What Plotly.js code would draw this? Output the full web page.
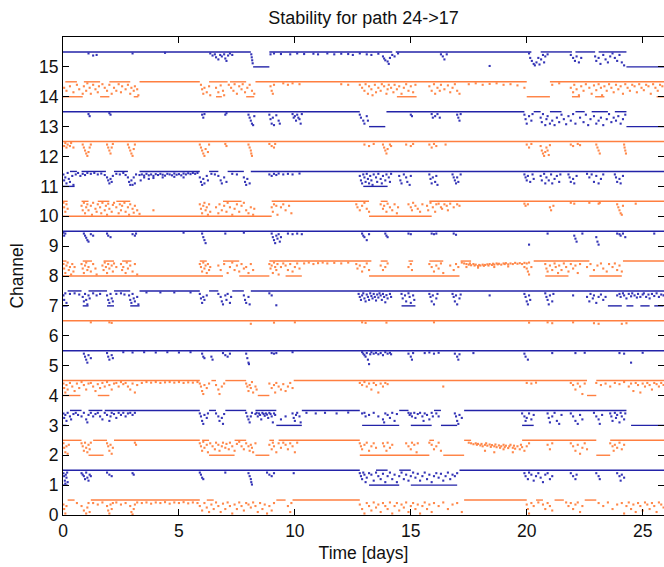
<!DOCTYPE html>
<html>
<head>
<meta charset="utf-8">
<script src="https://cdn.plot.ly/plotly-3.0.1.min.js"></script>
<style>html,body{margin:0;padding:0;background:#fff;}#chart{width:664px;height:567px;}</style>
</head>
<body>
<div id="chart"></div>
<script>
// Channel line segments: [tStart, tEnd, level] (level 1 = channel+0.5, level 0 = channel)
const ch15Segs = [[0,8.1,1],[8.2,8.9,0],[8.9,14.2,1],[14.35,20.2,1],[20.6,21.95,1],[22.1,22.95,1],[23.1,24.3,1],[24.3,25.95,0]];
const ch14Segs = [[0,0.85,0],[0.1,0.6,1],[0.9,1.6,1],[1.6,2.0,0],[2.0,2.9,1],[3.05,3.25,0],[3.3,5.9,1],[6.3,7.1,1],[6.6,6.85,0],[7.2,7.9,1],[7.9,8.25,0],[8.3,20.0,1],[14.4,15.25,0],[20.0,21.0,0],[21.0,25.95,1],[21.95,22.3,0],[22.95,23.35,0],[25.6,25.95,0]];
const ch13Segs = [[0,12.8,1],[13.2,13.9,0],[13.95,19.9,1],[20.3,20.6,1],[21.0,21.5,1],[22.1,22.5,1],[22.8,23.5,1],[23.8,24.3,1],[24.3,25.95,0]];
const ch12Segs = [[0,25.95,1]];
const ch11Segs = [[0,0.5,0],[0.3,0.6,1],[0.8,1.85,1],[2.2,2.8,1],[3.3,5.9,1],[6.3,6.7,1],[7.1,7.8,1],[8.1,25.95,1],[12.95,14.0,0]];
const ch10Segs = [[0,9.0,0],[0,0.2,1],[0.8,1.1,1],[1.5,2.0,1],[2.3,2.9,1],[6.9,7.7,1],[9.0,13.2,1],[13.2,15.9,0],[13.7,14.0,1],[15.8,25.95,1]];
const ch9Segs = [[0,25.95,1]];
const ch8Segs = [[0,6.9,0],[7.6,8.9,0],[9.6,10.3,0],[0,0.15,1],[0.85,1.25,1],[1.75,2.2,1],[2.55,2.95,1],[5.9,6.2,1],[6.9,7.6,1],[8.9,13.3,1],[13.2,17.1,0],[13.7,14.0,1],[14.9,15.1,1],[15.8,16.4,1],[17.15,17.6,1],[20.3,22.7,1],[20.8,21.8,0],[22.7,24.1,0],[24.15,25.95,1]];
const ch7Segs = [[0,0.2,0],[0.85,1.1,0],[1.9,2.2,0],[2.9,3.3,0],[0.2,0.8,1],[1.1,1.9,1],[2.2,2.9,1],[3.3,5.9,1],[6.3,6.7,1],[7.3,7.8,1],[8.1,25.95,1],[14.6,15.2,0],[23.5,24.1,0],[24.3,24.6,0],[24.9,25.3,0],[25.5,25.9,0]];
const ch6Segs = [[0,25.95,1]];
const ch5Segs = [[0,25.95,1]];
const ch4Segs = [[0,0.75,0],[1.5,2.0,0],[8.4,8.9,0],[22.6,23.0,0],[0,5.9,1],[6.4,6.6,1],[7.0,7.9,1],[9.95,22.6,1],[23.0,25.95,1]];
const ch3Segs = [[0,0.15,0],[9.2,10.3,0],[12.9,14.5,0],[15.0,15.9,0],[16.3,17.0,0],[19.8,20.3,0],[24.5,25.95,0],[0.3,0.8,1],[1.1,1.7,1],[1.8,5.9,1],[6.3,6.6,1],[7.0,7.9,1],[8.3,9.2,1],[10.3,12.8,1],[14.5,14.9,1],[16.0,16.3,1],[17.3,24.3,1]];
const ch2Segs = [[1.1,1.75,0],[6.3,7.4,0],[8.3,8.9,0],[12.8,15.8,0],[16.4,17.3,0],[23.0,23.6,0],[0,0.8,1],[1.3,1.9,1],[2.2,5.9,1],[6.0,6.3,1],[7.4,7.9,1],[8.9,9.1,1],[9.3,12.8,1],[15.8,16.0,1],[17.3,17.6,1],[19.8,23.0,1],[23.6,25.95,1]];
const ch1Segs = [[0,0.2,0],[13.2,14.5,0],[15.0,17.0,0],[0,12.8,1],[13.5,14.0,1],[14.5,15.0,1],[17.1,25.95,1]];
const ch0Segs = [[0.2,0.5,1],[1.2,5.9,1],[6.2,6.5,1],[9.2,9.6,1],[9.9,12.8,1],[17.3,20.0,1],[20.4,20.7,1],[21.2,21.6,1],[22.5,23.0,1]];

// Scattered samples: [t, offset above channel]
const ch15Dots = [[1.1,.45],[1.3,.38],[1.45,.4],[3.0,.45],[4.4,.47],[6.35,.45],[6.45,.38],[6.55,.42],[6.6,.32],[6.7,.25],[6.78,.4],[6.85,.35],[6.95,.42],[7.0,.28],[7.05,.2],[7.12,.38],[7.2,.45],[7.3,.4],[8.12,.42],[8.14,.32],[8.16,.22],[8.18,.12],[8.95,.42],[9.1,.45],[9.4,.43],[9.8,.42],[10.1,.45],[10.4,.43],[10.8,.44],[11.0,.42],[11.4,.45],[11.7,.42],[12.0,.44],[12.3,.43],[12.5,.4],[12.8,.45],[13.1,.42],[13.3,.4],[13.6,.44],[13.8,.35],[13.85,.28],[13.9,.22],[14.0,.18],[14.05,.1],[14.1,.3],[14.2,.4],[14.3,.35],[14.45,.45],[16.3,.42],[16.38,.35],[16.45,.25],[16.55,.42],[18.4,.03],[20.1,.45],[20.15,.3],[20.22,.2],[20.3,.1],[20.35,.05],[20.42,.15],[20.5,.3],[20.55,.08],[20.62,.25],[20.7,.4],[20.8,.35],[20.9,.42],[20.75,.15],[21.9,.4],[22.0,.3],[22.08,.2],[22.15,.35],[22.25,.15],[22.35,.3],[22.95,.35],[23.0,.2],[23.1,.3],[23.18,.1],[23.3,.4],[23.4,.25],[23.5,.15],[23.6,.35],[23.7,.45],[23.8,.3],[23.9,.2],[24.0,.4],[24.1,.15],[24.2,.05]];
const ch14Dots = [[0.05,.3],[0.15,.2],[0.3,.35],[0.45,.15],[0.6,.4],[0.7,.25],[0.85,.1],[0.9,.35],[1.0,.2],[1.05,.45],[1.15,.3],[1.2,.1],[1.3,.4],[1.4,.25],[1.5,.15],[1.55,.35],[1.7,.42],[1.8,.3],[1.9,.2],[2.0,.4],[2.1,.1],[2.2,.3],[2.3,.2],[2.4,.42],[2.5,.15],[2.55,.35],[2.7,.25],[2.8,.4],[2.9,.1],[2.95,.3],[3.05,.2],[3.1,.35],[3.2,.25],[3.25,.05],[5.95,.4],[6.0,.25],[6.05,.1],[6.1,.3],[6.2,.15],[6.3,.35],[6.35,.05],[6.6,.3],[6.7,.15],[6.8,.38],[6.9,.2],[6.95,.05],[7.15,.4],[7.25,.3],[7.35,.2],[7.4,.42],[7.5,.1],[7.6,.35],[7.7,.25],[7.75,.42],[7.85,.15],[7.95,.3],[8.05,.4],[8.15,.2],[8.25,.1],[8.95,.35],[9.0,.2],[9.05,.1],[9.1,.4],[9.5,.45],[9.7,.4],[9.9,.45],[10.2,.42],[12.0,.42],[12.3,.4],[12.8,.4],[12.9,.3],[13.0,.2],[13.05,.42],[13.15,.1],[13.2,.35],[13.3,.25],[13.35,.05],[13.45,.4],[13.5,.15],[13.6,.3],[13.7,.2],[13.75,.42],[13.85,.35],[13.95,.1],[14.0,.25],[14.05,.4],[14.15,.3],[14.25,.15],[14.3,.4],[14.4,.25],[14.5,.35],[14.6,.1],[14.7,.3],[14.8,.42],[14.9,.2],[15.0,.35],[15.1,.15],[15.2,.4],[15.8,.35],[15.9,.2],[16.0,.42],[16.05,.1],[16.15,.3],[16.25,.2],[16.3,.4],[16.45,.25],[16.6,.38],[16.7,.15],[16.8,.3],[16.9,.42],[17.0,.2],[17.1,.1],[17.5,.42],[17.8,.45],[18.1,.4],[18.4,.43],[18.7,.45],[19.0,.4],[19.3,.42],[19.6,.38],[19.9,.3],[21.1,.4],[21.4,.45],[21.9,.3],[22.0,.15],[22.05,.4],[22.15,.25],[22.25,.05],[22.35,.35],[22.45,.2],[22.55,.42],[22.7,.3],[22.8,.1],[22.9,.38],[23.0,.22],[23.1,.42],[23.2,.3],[23.25,.05],[23.35,.35],[23.45,.2],[23.55,.42],[23.65,.3],[23.75,.15],[23.85,.4],[23.95,.25],[24.05,.35],[24.15,.1],[24.25,.42],[24.35,.3],[24.45,.2],[24.55,.4],[24.65,.35],[24.75,.15],[24.85,.42],[24.95,.3],[25.05,.22],[25.15,.4],[25.25,.35],[25.35,.1],[25.45,.42],[25.55,.3],[25.65,.2],[25.75,.4],[25.85,.35]];
const ch13Dots = [[1.1,.42],[1.15,.35],[2.0,.45],[2.05,.4],[6.0,.4],[6.05,.3],[6.1,.42],[7.0,.4],[7.05,.45],[8.0,.4],[8.05,.3],[8.1,.2],[8.15,.1],[8.2,.05],[8.25,.35],[8.9,.4],[8.95,.25],[9.0,.1],[9.05,.3],[9.1,.05],[9.2,.38],[9.3,.2],[9.35,.1],[9.9,.42],[9.95,.3],[10.0,.35],[10.05,.2],[10.1,.4],[10.15,.3],[10.2,.25],[10.25,.1],[10.3,.42],[12.8,.4],[12.85,.3],[12.95,.2],[13.0,.1],[13.1,.35],[13.15,.2],[15.0,.4],[15.05,.35],[15.9,.42],[15.95,.3],[16.05,.35],[16.15,.42],[16.25,.3],[17.0,.4],[17.05,.3],[17.1,.2],[17.15,.42],[19.9,.4],[19.95,.25],[20.0,.1],[20.1,.35],[20.2,.2],[20.25,.42],[20.6,.3],[20.65,.15],[20.7,.42],[20.8,.05],[20.85,.25],[20.9,.35],[21.0,.1],[21.1,.2],[21.2,.05],[21.3,.3],[21.4,.15],[21.5,.4],[21.6,.25],[21.7,.08],[21.8,.35],[21.9,.2],[22.0,.42],[22.1,.1],[22.3,.3],[22.45,.15],[22.55,.4],[22.65,.05],[22.75,.25],[22.9,.35],[23.0,.1],[23.1,.2],[23.2,.3],[23.3,.05],[23.45,.25],[23.55,.42],[23.65,.15],[23.75,.3],[23.85,.2],[23.95,.35],[24.05,.1],[24.15,.25],[24.25,.4]];
const ch12Dots = [[0.05,.35],[0.1,.45],[0.15,.3],[0.2,.4],[0.3,.35],[0.35,.45],[0.45,.3],[0.85,.4],[0.9,.3],[0.95,.2],[1.0,.1],[1.05,.02],[1.1,.15],[1.15,.3],[1.2,.4],[1.9,.4],[1.95,.3],[2.0,.2],[2.05,.1],[2.1,.3],[2.15,.42],[2.8,.4],[2.85,.3],[2.9,.2],[2.95,.1],[3.0,.02],[3.05,.25],[3.1,.4],[5.9,.4],[5.95,.3],[6.0,.2],[6.05,.1],[6.1,.02],[6.15,.25],[6.25,.15],[6.3,.4],[7.0,.42],[7.05,.35],[8.0,.4],[8.05,.3],[8.1,.2],[8.12,.1],[8.15,.02],[8.9,.42],[9.0,.35],[9.1,.3],[9.15,.42],[13.0,.4],[13.2,.35],[13.4,.42],[13.8,.4],[13.85,.3],[13.9,.2],[13.95,.1],[14.0,.25],[14.1,.4],[14.15,.35],[14.8,.4],[15.0,.35],[15.1,.42],[15.8,.4],[15.9,.3],[16.0,.42],[16.1,.35],[16.5,.4],[20.0,.4],[20.1,.3],[20.2,.42],[20.6,.35],[20.65,.2],[20.7,.1],[20.75,.02],[20.8,.15],[20.85,.3],[20.9,.2],[20.95,.05],[21.0,.38],[21.9,.4],[22.0,.35],[22.2,.42],[22.3,.38],[23.0,.4],[23.05,.3],[23.1,.2],[23.15,.1],[24.2,.4],[24.22,.3],[24.25,.2],[24.28,.1]];
const ch11Dots = [[0.02,.4],[0.05,.2],[0.1,.3],[0.15,.1],[0.2,.45],[0.25,.25],[0.3,.15],[0.4,.35],[0.45,.05],[0.55,.4],[0.65,.45],[0.75,.35],[0.85,.42],[0.95,.38],[1.05,.45],[1.2,.42],[1.35,.45],[1.5,.4],[1.65,.43],[1.8,.38],[1.9,.3],[1.95,.2],[2.0,.1],[2.05,.25],[2.1,.15],[2.15,.35],[2.3,.42],[2.45,.4],[2.6,.45],[2.7,.38],[2.8,.3],[2.85,.15],[2.9,.05],[2.95,.2],[3.0,.05],[3.05,.3],[3.1,.1],[3.15,.4],[3.3,.38],[3.4,.4],[3.5,.36],[3.6,.42],[3.7,.37],[3.8,.4],[3.9,.35],[4.0,.41],[4.1,.38],[4.2,.42],[4.3,.39],[4.4,.36],[4.5,.42],[4.6,.4],[4.7,.37],[4.8,.43],[4.9,.39],[5.0,.41],[5.1,.37],[5.2,.43],[5.3,.4],[5.4,.44],[5.5,.41],[5.6,.45],[5.7,.42],[5.8,.45],[3.5,.3],[3.9,.28],[4.3,.3],[4.8,.32],[5.2,.3],[3.35,.2],[3.7,.25],[5.9,.3],[5.95,.15],[6.0,.05],[6.05,.25],[6.1,.1],[6.2,.35],[6.25,.2],[6.4,.42],[6.55,.4],[6.7,.35],[6.8,.2],[6.85,.1],[6.95,.3],[7.05,.15],[7.3,.42],[7.5,.4],[7.8,.3],[7.85,.15],[7.9,.05],[7.95,.25],[8.05,.1],[8.9,.4],[9.0,.35],[9.1,.42],[9.2,.38],[9.3,.43],[9.5,.4],[9.7,.42],[9.9,.4],[10.2,.43],[12.8,.35],[12.85,.2],[12.9,.1],[12.95,.4],[13.0,.3],[13.05,.15],[13.1,.42],[13.15,.25],[13.2,.1],[13.25,.35],[13.3,.2],[13.35,.05],[13.4,.4],[13.5,.3],[13.55,.15],[13.6,.42],[13.7,.25],[13.75,.1],[13.8,.35],[13.9,.2],[13.95,.4],[14.05,.3],[14.1,.15],[14.15,.42],[14.5,.35],[14.55,.2],[14.6,.1],[14.7,.4],[14.8,.3],[14.85,.15],[14.95,.05],[15.0,.35],[15.8,.4],[15.85,.25],[15.9,.1],[15.95,.3],[16.05,.15],[16.1,.35],[16.15,.05],[16.8,.4],[16.85,.3],[16.9,.2],[16.95,.1],[17.0,.3],[17.05,.15],[17.15,.4],[19.9,.4],[19.95,.3],[20.0,.2],[20.05,.35],[20.15,.15],[20.25,.4],[20.3,.25],[20.6,.35],[20.65,.2],[20.75,.42],[20.8,.1],[20.85,.3],[20.95,.2],[21.05,.4],[21.1,.1],[21.2,.25],[21.3,.35],[21.4,.15],[21.45,.4],[21.8,.4],[21.85,.3],[21.9,.15],[22.0,.25],[22.05,.1],[22.15,.35],[22.6,.42],[22.7,.3],[22.8,.4],[22.9,.15],[23.0,.35],[23.1,.1],[23.2,.25],[23.3,.4],[23.8,.4],[23.85,.3],[23.9,.15],[24.0,.25],[24.05,.1],[24.15,.35]];
const ch10Dots = [[0.02,.45],[0.05,.3],[0.1,.15],[0.15,.4],[0.2,.25],[0.8,.35],[0.85,.2],[0.9,.45],[0.95,.1],[1.0,.3],[1.05,.4],[1.1,.2],[1.2,.35],[1.25,.05],[1.3,.45],[1.4,.25],[1.45,.15],[1.5,.4],[1.6,.3],[1.65,.1],[1.7,.45],[1.8,.2],[1.85,.35],[1.9,.05],[1.95,.42],[2.0,.25],[2.1,.15],[2.15,.38],[2.2,.45],[2.3,.3],[2.4,.1],[2.45,.4],[2.5,.2],[2.55,.35],[2.65,.45],[2.7,.15],[2.8,.3],[2.85,.05],[2.9,.4],[3.0,.25],[3.05,.12],[3.1,.35],[3.2,.2],[3.3,.08],[3.9,.2],[5.9,.4],[5.95,.25],[6.0,.1],[6.05,.35],[6.1,.45],[6.15,.2],[6.2,.3],[6.25,.05],[6.3,.4],[6.35,.15],[6.6,.3],[6.7,.1],[6.75,.4],[6.85,.2],[6.95,.35],[7.05,.15],[7.1,.45],[7.2,.3],[7.3,.05],[7.4,.25],[7.5,.4],[7.6,.15],[7.7,.35],[7.8,.45],[7.9,.2],[8.0,.1],[8.1,.3],[8.2,.05],[8.25,.25],[9.0,.3],[9.05,.15],[9.1,.4],[9.2,.35],[9.25,.05],[9.4,.3],[9.5,.4],[9.6,.2],[9.75,.35],[9.85,.1],[12.65,.4],[12.7,.3],[12.8,.2],[12.9,.35],[13.0,.45],[13.1,.25],[13.2,.15],[13.7,.4],[13.8,.25],[13.85,.35],[13.95,.15],[14.0,.42],[14.1,.3],[14.2,.2],[14.3,.4],[14.4,.1],[14.45,.3],[14.9,.4],[15.0,.3],[15.05,.2],[15.1,.45],[15.2,.35],[15.3,.25],[15.4,.15],[15.5,.4],[15.7,.35],[15.75,.2],[15.85,.45],[15.95,.3],[16.05,.15],[16.1,.4],[16.2,.42],[16.3,.3],[16.35,.25],[16.45,.4],[16.55,.35],[16.6,.2],[16.7,.42],[16.85,.3],[17.0,.4],[17.1,.35],[19.9,.42],[19.95,.35],[20.05,.4],[21.0,.3],[21.05,.2],[21.15,.35],[21.9,.45],[22.05,.42],[22.7,.45],[23.1,.42],[23.15,.45],[23.9,.4],[23.95,.3],[24.0,.2],[24.05,.1],[24.1,.05],[24.15,.35],[24.7,.42]];
const ch9Dots = [[0.02,.45],[0.05,.35],[0.1,.42],[0.9,.42],[0.95,.35],[1.0,.28],[1.05,.2],[1.1,.15],[1.2,.4],[1.3,.35],[1.9,.42],[1.95,.35],[2.05,.3],[3.0,.4],[3.1,.35],[3.15,.42],[5.2,.45],[6.0,.42],[6.05,.3],[6.1,.2],[6.15,.1],[7.0,.42],[7.8,.45],[9.0,.42],[9.05,.3],[9.1,.2],[9.15,.1],[9.2,.35],[9.25,.25],[9.3,.4],[9.35,.15],[9.4,.3],[9.7,.42],[9.9,.4],[10.1,.42],[10.3,.4],[12.9,.42],[12.95,.35],[13.0,.3],[13.1,.2],[13.2,.4],[13.9,.42],[13.95,.35],[14.0,.3],[14.9,.42],[15.0,.4],[15.9,.42],[16.0,.4],[16.1,.42],[16.85,.42],[16.95,.38],[20.1,.05],[20.9,.42],[22.05,.35],[22.1,.25],[22.15,.15],[22.4,.42],[23.0,.3],[23.05,.15],[23.1,.05],[23.9,.42],[24.0,.4],[24.05,.35],[24.15,.42],[24.25,.3],[25.5,.42]];
const ch8Dots = [[0.02,.4],[0.05,.25],[0.1,.1],[0.15,.35],[0.2,.45],[0.25,.2],[0.3,.3],[0.35,.05],[0.4,.4],[0.45,.15],[0.5,.3],[0.8,.4],[0.85,.25],[0.9,.1],[0.95,.35],[1.0,.45],[1.05,.2],[1.1,.3],[1.2,.15],[1.3,.4],[1.4,.25],[1.45,.05],[1.7,.35],[1.75,.2],[1.8,.45],[1.85,.3],[1.9,.1],[1.95,.4],[2.0,.25],[2.1,.35],[2.15,.15],[2.2,.42],[2.3,.3],[2.5,.4],[2.55,.2],[2.6,.3],[2.7,.1],[2.75,.45],[2.8,.25],[2.9,.35],[3.0,.15],[3.1,.4],[3.2,.05],[5.9,.4],[5.95,.3],[6.0,.15],[6.05,.45],[6.1,.25],[6.15,.35],[6.2,.1],[6.25,.4],[6.3,.2],[6.35,.3],[6.7,.35],[6.8,.2],[6.95,.4],[7.1,.1],[7.2,.3],[7.3,.45],[7.4,.2],[7.5,.35],[7.6,.15],[7.7,.4],[7.8,.25],[7.9,.3],[8.0,.1],[8.1,.4],[8.2,.2],[8.9,.4],[8.95,.25],[9.0,.35],[9.05,.1],[9.1,.45],[9.15,.3],[9.2,.2],[9.25,.4],[9.3,.05],[9.4,.3],[9.5,.42],[9.6,.35],[9.7,.2],[9.8,.4],[9.9,.15],[10.0,.3],[10.1,.42],[10.2,.25],[10.4,.42],[10.6,.45],[10.8,.4],[11.0,.43],[11.2,.45],[11.4,.42],[11.7,.44],[12.0,.42],[12.3,.45],[12.65,.4],[12.7,.25],[12.8,.35],[12.9,.15],[13.0,.3],[13.1,.42],[13.2,.2],[13.7,.35],[13.8,.2],[13.9,.3],[14.0,.42],[14.9,.3],[15.0,.4],[15.05,.2],[15.8,.4],[15.9,.3],[16.0,.15],[16.1,.35],[16.2,.25],[16.3,.42],[16.4,.1],[16.7,.35],[16.85,.2],[16.95,.4],[17.05,.3],[17.2,.45],[17.3,.42],[17.4,.4],[17.5,.38],[17.55,.42],[17.6,.36],[17.7,.4],[17.75,.35],[17.8,.38],[17.9,.33],[17.95,.37],[18.0,.35],[18.1,.38],[18.15,.34],[18.2,.37],[18.3,.39],[18.35,.35],[18.4,.4],[18.5,.37],[18.55,.41],[18.6,.38],[18.7,.42],[18.75,.39],[18.8,.41],[18.9,.38],[19.0,.42],[19.05,.4],[19.1,.43],[19.2,.39],[19.3,.42],[19.4,.4],[19.5,.44],[19.6,.41],[19.7,.43],[19.8,.4],[19.9,.44],[20.0,.42],[20.1,.45],[17.4,.3],[17.9,.28],[18.6,.3],[19.2,.32],[19.9,.3],[20.0,.25],[20.05,.15],[20.1,.05],[20.2,.3],[20.8,.4],[20.85,.25],[20.9,.15],[21.0,.35],[21.1,.2],[21.2,.42],[21.25,.3],[21.35,.1],[21.4,.35],[21.5,.2],[21.6,.42],[21.7,.3],[21.8,.15],[21.9,.4],[22.0,.25],[22.1,.35],[22.2,.1],[22.3,.4],[22.6,.3],[22.75,.4],[22.9,.2],[23.05,.35],[23.2,.42],[23.3,.25],[23.45,.15],[23.55,.4],[23.7,.3],[23.8,.42],[23.9,.2],[24.0,.35],[24.1,.15]];
const ch7Dots = [[0.02,.35],[0.05,.2],[0.1,.42],[0.15,.1],[0.3,.4],[0.5,.42],[0.7,.38],[0.85,.3],[0.9,.15],[0.95,.4],[1.0,.2],[1.05,.05],[1.1,.35],[1.15,.25],[1.3,.42],[1.45,.35],[1.6,.4],[1.9,.35],[1.95,.2],[2.0,.1],[2.05,.4],[2.1,.25],[2.15,.15],[2.3,.4],[2.5,.42],[2.65,.38],[2.85,.35],[2.9,.2],[2.95,.1],[3.0,.4],[3.05,.25],[3.1,.15],[3.2,.3],[3.25,.05],[3.6,.45],[4.2,.45],[4.8,.45],[5.5,.45],[5.9,.4],[5.95,.25],[6.0,.1],[6.05,.3],[6.1,.2],[6.2,.35],[6.7,.4],[6.8,.3],[6.85,.15],[6.9,.05],[7.0,.35],[7.05,.2],[7.1,.4],[7.2,.1],[7.25,.3],[7.8,.35],[7.85,.2],[7.9,.1],[8.0,.3],[8.05,.05],[8.9,.42],[9.0,.35],[9.2,.02],[12.75,.4],[12.8,.3],[12.85,.2],[12.9,.35],[12.95,.42],[13.0,.25],[13.05,.15],[13.1,.38],[13.15,.3],[13.2,.2],[13.25,.42],[13.3,.33],[13.35,.25],[13.4,.4],[13.45,.3],[13.5,.18],[13.55,.38],[13.6,.28],[13.65,.42],[13.7,.35],[13.75,.2],[13.8,.4],[13.85,.3],[13.9,.12],[13.95,.36],[14.0,.25],[14.1,.4],[14.15,.3],[14.6,.4],[14.65,.25],[14.75,.35],[14.8,.15],[14.9,.42],[14.95,.3],[15.0,.1],[15.1,.35],[15.15,.2],[15.8,.4],[15.85,.3],[15.9,.15],[15.95,.35],[16.0,.05],[16.1,.25],[16.15,.4],[16.8,.4],[16.85,.3],[16.9,.15],[16.95,.35],[17.0,.05],[17.1,.25],[17.15,.38],[18.4,.35],[19.9,.4],[19.95,.3],[20.0,.15],[20.05,.05],[20.1,.35],[20.15,.2],[20.8,.42],[20.85,.3],[20.9,.2],[20.95,.05],[21.0,.35],[21.1,.15],[21.15,.4],[22.0,.35],[22.6,.3],[22.7,.15],[22.75,.4],[22.85,.25],[22.9,.35],[23.0,.1],[23.1,.3],[23.2,.38],[23.3,.2],[23.4,.3],[23.9,.35],[24.0,.4],[24.05,.3],[24.15,.42],[24.2,.35],[24.3,.25],[24.4,.4],[24.5,.32],[24.55,.42],[24.65,.35],[24.75,.28],[24.8,.4],[24.9,.3],[25.0,.38],[25.05,.42],[25.15,.3],[25.25,.38],[25.3,.25],[25.4,.4],[25.5,.33],[25.6,.42],[25.7,.3],[25.8,.38],[25.9,.35]];
const ch6Dots = [[1.2,.45],[2.0,.45],[2.1,.43],[8.1,.4],[9.1,.44],[10.0,.45],[12.9,.45],[13.05,.43],[13.95,.44],[16.0,.45],[20.1,.44],[20.9,.45],[21.1,.42],[22.0,.45],[22.9,.42],[23.1,.4],[24.1,.4],[24.3,.42]];
const ch5Dots = [[0.9,.4],[0.95,.3],[1.0,.2],[1.05,.1],[1.1,.35],[1.2,.25],[1.9,.42],[1.95,.3],[2.0,.2],[2.1,.35],[2.15,.25],[2.6,.45],[3.0,.44],[3.5,.45],[4.0,.44],[4.5,.45],[5.0,.44],[5.5,.45],[6.0,.4],[6.05,.3],[6.1,.25],[6.4,.3],[6.45,.2],[6.9,.42],[7.0,.35],[7.1,.3],[7.2,.4],[7.9,.4],[7.95,.25],[8.0,.1],[8.02,.05],[9.0,.42],[9.1,.4],[9.2,.42],[9.9,.45],[12.9,.45],[12.95,.4],[13.0,.35],[13.05,.3],[13.1,.42],[13.15,.2],[13.2,.05],[13.25,.38],[13.3,.45],[13.4,.4],[13.5,.43],[13.6,.38],[13.7,.42],[13.8,.35],[13.9,.45],[14.0,.4],[14.1,.43],[14.15,.38],[14.9,.4],[15.0,.3],[15.05,.2],[15.1,.42],[15.6,.42],[15.8,.44],[16.0,.4],[16.2,.43],[16.9,.4],[17.0,.3],[17.05,.2],[17.1,.38],[17.7,.42],[19.9,.4],[19.95,.3],[20.05,.2],[21.1,.42],[22.1,.42],[22.5,.43],[24.0,.42],[24.2,.4],[24.5,.1],[25.0,.43]];
const ch4Dots = [[0.02,.4],[0.05,.25],[0.1,.1],[0.15,.35],[0.2,.2],[0.3,.42],[0.4,.3],[0.5,.15],[0.6,.4],[0.7,.25],[0.8,.45],[0.9,.35],[1.0,.2],[1.1,.4],[1.2,.42],[1.3,.3],[1.4,.15],[1.5,.38],[1.6,.25],[1.7,.42],[1.8,.3],[1.9,.45],[2.0,.35],[2.1,.2],[2.2,.4],[2.3,.42],[2.4,.3],[2.5,.45],[2.6,.38],[2.7,.42],[2.8,.3],[2.9,.2],[3.0,.4],[3.1,.1],[3.2,.35],[3.4,.42],[3.6,.45],[3.8,.43],[4.0,.45],[4.2,.42],[4.4,.44],[4.6,.45],[4.8,.43],[5.0,.45],[5.2,.42],[5.4,.44],[5.6,.43],[5.8,.45],[5.9,.4],[5.95,.3],[6.0,.15],[6.05,.05],[6.1,.35],[6.2,.25],[6.3,.4],[6.6,.35],[6.7,.2],[6.75,.05],[6.85,.3],[6.95,.4],[7.9,.4],[7.95,.3],[8.0,.15],[8.05,.35],[8.1,.25],[8.15,.45],[8.2,.1],[8.3,.3],[8.35,.2],[8.9,.4],[9.0,.25],[9.1,.35],[9.15,.1],[9.2,.42],[9.3,.3],[9.4,.2],[9.5,.38],[9.6,.15],[9.7,.3],[9.8,.42],[9.9,.25],[12.8,.42],[12.9,.35],[13.0,.45],[13.1,.3],[13.2,.4],[13.3,.2],[13.4,.42],[13.5,.35],[13.6,.1],[13.7,.4],[13.8,.3],[13.9,.42],[14.0,.38],[16.4,.3],[20.0,.42],[20.2,.4],[20.4,.43],[21.9,.42],[22.0,.35],[22.1,.2],[22.2,.4],[22.3,.3],[22.4,.05],[22.5,.4],[23.0,.42],[23.2,.35],[23.4,.4],[23.6,.3],[23.8,.42],[24.0,.38],[24.2,.45],[24.4,.3],[24.5,.4],[24.6,.15],[24.7,.42],[24.8,.35],[24.9,.1],[25.0,.4],[25.1,.3],[25.2,.42],[25.3,.35],[25.4,.2],[25.5,.42],[25.6,.38],[25.7,.3],[25.8,.42],[25.9,.35]];
const ch3Dots = [[0.02,.4],[0.05,.25],[0.1,.35],[0.15,.15],[0.2,.42],[0.3,.3],[0.35,.2],[0.45,.38],[0.55,.42],[0.65,.35],[0.8,.3],[0.9,.42],[1.0,.2],[1.05,.1],[1.1,.35],[1.2,.42],[1.3,.3],[1.4,.38],[1.5,.42],[1.6,.3],[1.7,.2],[1.8,.42],[1.9,.35],[2.0,.15],[2.05,.3],[2.1,.42],[2.2,.38],[2.3,.25],[2.4,.42],[2.5,.35],[2.6,.42],[2.7,.3],[2.8,.4],[2.9,.42],[3.0,.35],[3.1,.42],[5.9,.4],[5.95,.3],[6.0,.15],[6.05,.05],[6.1,.35],[6.2,.25],[6.25,.4],[6.6,.4],[6.7,.3],[6.75,.15],[6.85,.25],[6.9,.05],[6.95,.38],[7.9,.42],[7.95,.3],[8.0,.2],[8.05,.1],[8.1,.3],[8.15,.42],[8.3,.38],[8.35,.42],[8.4,.3],[8.45,.4],[8.5,.35],[8.55,.2],[8.6,.42],[8.65,.38],[8.7,.32],[8.75,.4],[8.8,.36],[8.85,.25],[8.9,.42],[8.95,.38],[9.0,.3],[9.05,.1],[9.1,.4],[9.15,.35],[9.4,.2],[9.6,.3],[9.9,.4],[9.95,.25],[10.0,.15],[10.05,.35],[10.1,.42],[10.2,.3],[10.25,.1],[10.5,.42],[10.9,.4],[11.3,.42],[11.8,.4],[12.3,.43],[12.9,.4],[13.0,.42],[13.05,.3],[13.2,.35],[13.4,.42],[13.6,.3],[13.8,.2],[13.85,.1],[13.9,.4],[14.0,.35],[14.1,.25],[14.2,.42],[14.3,.15],[14.4,.38],[14.9,.42],[14.95,.35],[15.0,.4],[15.05,.3],[15.15,.42],[15.2,.25],[15.3,.38],[15.4,.42],[15.5,.3],[15.55,.15],[15.6,.4],[15.7,.35],[15.8,.2],[15.9,.42],[15.95,.3],[16.1,.4],[16.2,.3],[16.9,.4],[16.95,.3],[17.0,.15],[17.05,.05],[17.1,.35],[17.2,.25],[19.8,.4],[19.9,.3],[19.95,.15],[20.0,.25],[20.1,.4],[20.2,.2],[20.3,.35],[20.9,.4],[20.95,.25],[21.0,.1],[21.1,.3],[21.2,.42],[21.3,.15],[21.4,.05],[21.5,.35],[21.9,.4],[22.0,.3],[22.1,.15],[22.2,.05],[22.3,.35],[22.4,.2],[22.9,.42],[23.0,.3],[23.1,.2],[23.15,.05],[23.25,.35],[23.6,.4],[23.65,.3],[23.7,.15],[23.8,.42],[23.85,.25],[23.9,.35],[24.0,.1],[24.05,.42],[24.1,.3],[24.2,.2],[24.25,.4]];
const ch2Dots = [[0.02,.4],[0.05,.25],[0.1,.1],[0.15,.3],[0.2,.05],[0.25,.35],[0.8,.4],[0.85,.3],[0.9,.15],[0.95,.42],[1.0,.25],[1.05,.1],[1.1,.35],[1.15,.2],[1.2,.42],[1.9,.4],[1.95,.3],[2.0,.15],[2.05,.35],[2.1,.05],[2.15,.25],[3.1,.42],[3.15,.35],[5.9,.4],[5.95,.3],[6.0,.15],[6.05,.45],[6.1,.25],[6.2,.35],[6.25,.1],[6.35,.4],[6.45,.3],[6.55,.2],[6.6,.42],[6.7,.35],[6.75,.15],[6.85,.3],[6.9,.42],[7.0,.25],[7.05,.38],[7.15,.2],[7.2,.42],[7.3,.3],[7.4,.15],[7.5,.38],[7.6,.45],[7.7,.3],[7.8,.2],[7.9,.4],[8.0,.3],[8.05,.15],[8.1,.35],[8.15,.25],[8.2,.1],[8.3,.4],[8.9,.35],[9.0,.2],[9.05,.42],[9.1,.3],[9.2,.1],[9.3,.4],[9.4,.25],[9.5,.42],[9.6,.35],[9.7,.2],[9.8,.4],[9.9,.3],[10.0,.1],[10.1,.42],[12.8,.4],[12.85,.3],[12.9,.2],[13.0,.35],[13.1,.42],[13.2,.15],[13.3,.3],[13.4,.4],[13.5,.25],[13.8,.4],[13.85,.3],[13.95,.15],[14.0,.42],[14.1,.25],[14.2,.35],[14.8,.4],[14.9,.3],[15.0,.2],[15.05,.42],[15.15,.35],[15.25,.1],[15.3,.4],[15.8,.42],[15.9,.35],[16.0,.2],[16.1,.3],[16.2,.42],[16.3,.15],[17.5,.42],[17.6,.4],[17.7,.37],[17.8,.4],[17.85,.35],[17.9,.38],[18.0,.33],[18.05,.38],[18.1,.3],[18.2,.35],[18.25,.4],[18.3,.32],[18.4,.36],[18.45,.28],[18.5,.34],[18.6,.3],[18.65,.36],[18.7,.27],[18.8,.33],[18.85,.25],[18.9,.3],[19.0,.35],[19.05,.27],[19.1,.32],[19.2,.24],[19.25,.3],[19.3,.35],[19.4,.25],[19.45,.32],[19.5,.22],[19.6,.3],[19.7,.2],[19.75,.35],[19.8,.27],[19.9,.15],[20.0,.3],[20.1,.4],[18.2,.15],[18.6,.1],[19.0,.2],[19.4,.1],[20.9,.35],[21.0,.2],[21.1,.4],[21.9,.4],[22.0,.3],[22.1,.15],[22.2,.35],[22.3,.05],[22.4,.25],[22.5,.4],[22.6,.2],[23.6,.4],[23.7,.3],[23.75,.15],[23.8,.35],[23.9,.25],[24.0,.42],[24.1,.2],[24.2,.35]];
const ch1Dots = [[0.02,.4],[0.05,.3],[0.08,.15],[0.1,.05],[0.12,.35],[0.15,.25],[0.18,.42],[0.2,.1],[0.8,.4],[0.85,.35],[0.9,.3],[0.95,.2],[1.0,.42],[1.05,.25],[1.1,.15],[1.15,.35],[1.2,.3],[1.9,.42],[2.0,.35],[2.1,.3],[3.0,.4],[3.05,.35],[5.9,.42],[5.95,.35],[6.0,.25],[6.05,.2],[7.0,.42],[8.0,.4],[8.05,.3],[8.1,.2],[8.12,.1],[8.15,.02],[8.8,.42],[8.9,.35],[9.0,.3],[9.1,.4],[9.95,.4],[12.8,.4],[12.85,.3],[12.9,.2],[12.95,.42],[13.0,.35],[13.05,.1],[13.1,.25],[13.2,.4],[13.3,.35],[13.4,.15],[13.5,.42],[13.6,.3],[13.7,.2],[13.8,.38],[13.9,.1],[14.0,.3],[14.1,.42],[14.2,.2],[14.3,.35],[14.4,.1],[14.5,.3],[14.6,.42],[14.7,.2],[14.8,.35],[14.9,.15],[15.0,.3],[15.1,.42],[15.2,.25],[15.3,.38],[15.4,.15],[15.5,.3],[15.6,.42],[15.7,.2],[15.8,.35],[15.9,.1],[16.0,.3],[16.1,.4],[16.2,.25],[16.3,.38],[16.4,.15],[16.5,.3],[16.6,.42],[16.7,.2],[16.8,.35],[16.9,.3],[17.0,.4],[19.9,.4],[19.95,.3],[20.05,.2],[20.1,.42],[20.2,.35],[20.3,.15],[20.4,.3],[20.5,.4],[20.6,.25],[20.7,.1],[20.8,.35],[20.9,.4],[21.0,.2],[21.1,.3],[21.9,.4],[22.0,.3],[22.1,.2],[22.15,.35],[23.0,.4],[23.1,.3],[23.15,.2],[23.9,.4],[24.0,.3],[24.05,.15],[24.1,.35],[24.2,.25]];
const ch0Dots = [[0.02,.35],[0.05,.2],[0.1,.05],[0.15,.3],[0.6,.4],[0.8,.3],[0.9,.15],[1.0,.05],[1.05,.25],[1.1,.4],[1.15,.1],[1.3,.4],[1.5,.35],[1.7,.42],[1.9,.3],[1.95,.15],[2.0,.05],[2.05,.35],[2.1,.2],[2.15,.4],[2.3,.42],[2.5,.35],[2.7,.4],[2.9,.3],[2.95,.1],[3.0,.02],[3.05,.2],[3.1,.35],[3.2,.42],[3.4,.4],[3.6,.42],[3.8,.38],[4.0,.42],[4.2,.4],[4.4,.43],[4.6,.38],[4.8,.42],[5.0,.4],[5.2,.43],[5.4,.39],[5.6,.42],[5.8,.4],[5.9,.3],[6.0,.15],[6.1,.4],[6.2,.25],[6.3,.1],[6.4,.35],[6.5,.2],[6.6,.42],[6.7,.3],[6.8,.1],[6.9,.38],[7.0,.2],[7.1,.42],[7.2,.3],[7.3,.05],[7.4,.35],[7.5,.2],[7.6,.42],[7.7,.3],[7.8,.15],[7.9,.4],[8.0,.35],[8.1,.25],[8.2,.42],[8.3,.3],[8.4,.1],[8.5,.4],[8.6,.2],[8.7,.35],[8.8,.05],[8.9,.3],[9.0,.15],[9.1,.4],[9.7,.3],[9.8,.1],[9.85,.4],[12.8,.35],[12.9,.2],[13.0,.05],[13.1,.4],[13.2,.3],[13.3,.15],[13.4,.42],[13.5,.25],[13.6,.35],[13.7,.1],[13.8,.4],[13.9,.3],[14.0,.2],[14.1,.42],[14.2,.05],[14.3,.3],[14.4,.4],[14.5,.15],[14.6,.35],[14.7,.25],[14.8,.42],[14.9,.1],[15.0,.3],[15.1,.4],[15.2,.2],[15.3,.35],[15.4,.05],[15.5,.3],[15.6,.42],[15.7,.2],[15.8,.35],[15.9,.1],[16.0,.4],[16.2,.3],[16.4,.42],[16.6,.2],[16.8,.35],[17.0,.4],[17.2,.1],[20.0,.35],[20.05,.2],[20.1,.05],[20.2,.4],[20.3,.3],[20.5,.42],[20.7,.35],[20.8,.2],[20.9,.4],[21.0,.3],[21.1,.15],[21.7,.42],[21.8,.3],[21.9,.4],[22.0,.2],[22.1,.35],[22.2,.42],[22.3,.1],[22.4,.3],[23.1,.4],[23.3,.3],[23.5,.42],[23.7,.2],[23.9,.35],[24.1,.4],[24.2,.05],[24.3,.3],[24.4,.42],[24.5,.2],[24.6,.35],[24.7,.1],[24.8,.4],[24.9,.3],[25.0,.15],[25.1,.42],[25.2,.35],[25.3,.2],[25.4,.4],[25.5,.3],[25.6,.1],[25.7,.42],[25.8,.35],[25.9,.25]];

const channelIds = [0,1,2,3,4,5,6,7,8,9,10,11,12,13,14,15];
const channelSegs = [ch0Segs,ch1Segs,ch2Segs,ch3Segs,ch4Segs,ch5Segs,ch6Segs,ch7Segs,ch8Segs,ch9Segs,ch10Segs,ch11Segs,ch12Segs,ch13Segs,ch14Segs,ch15Segs];
const channelDots = [ch0Dots,ch1Dots,ch2Dots,ch3Dots,ch4Dots,ch5Dots,ch6Dots,ch7Dots,ch8Dots,ch9Dots,ch10Dots,ch11Dots,ch12Dots,ch13Dots,ch14Dots,ch15Dots];
const yTicks = [0,1,2,3,4,5,6,7,8,9,10,11,12,13,14,15];
const xTicks = [0,5,10,15,20,25];

const BLUE = '#2323a8', BLUE_DOT = '#3434b6';
const ORANGE = '#ff7f40', ORANGE_DOT = '#ff884a';

const traces = [];
channelIds.forEach((k, i) => {
  const odd = k % 2 === 1;
  const lx = [], ly = [];
  channelSegs[i].forEach(s => { const lv = k + 0.5 * s[2]; lx.push(s[0], s[1], null); ly.push(lv, lv, null); });
  traces.push({x: lx, y: ly, type: 'scatter', mode: 'lines', connectgaps: false,
    line: {color: odd ? BLUE : ORANGE, width: 1.4}, hoverinfo: 'skip', showlegend: false});
  traces.push({x: channelDots[i].map(d => d[0]), y: channelDots[i].map(d => k + d[1]), type: 'scatter', mode: 'markers',
    marker: {symbol: 'square', size: 2.1, color: odd ? BLUE_DOT : ORANGE_DOT, line: {width: 0}}, hoverinfo: 'skip', showlegend: false});
});
traces.push({x: [], y: [], yaxis: 'y2', type: 'scatter', mode: 'markers', showlegend: false});

const FONT = 'Liberation Sans, Arial, Helvetica, sans-serif';
const layout = {
  width: 664, height: 567,
  margin: {l: 63, r: 0, t: 37, b: 52, pad: 0},
  paper_bgcolor: '#fff', plot_bgcolor: '#fff',
  font: {family: FONT, size: 17.5, color: '#111'},
  showlegend: false, hovermode: false,
  title: {text: 'Stability for path 24->17', font: {family: FONT, size: 18, color: '#111'},
    xref: 'paper', x: 0.5, xanchor: 'center', yref: 'container', y: 0.968, yanchor: 'middle'},
  xaxis: {range: [0, 25.92], tickvals: xTicks, ticktext: xTicks.map(String), ticks: 'inside', ticklen: 6, tickcolor: '#000',
    showline: true, linecolor: '#000', linewidth: 1, mirror: 'ticks', showgrid: false, zeroline: false,
    title: {text: 'Time [days]', font: {size: 17.5}, standoff: 6}, automargin: false},
  yaxis: {range: [0, 16], tickvals: yTicks, ticktext: yTicks.map(String), ticks: 'inside', ticklen: 6, tickcolor: '#000',
    showline: true, linecolor: '#000', linewidth: 1, mirror: false, showgrid: false, zeroline: false,
    title: {text: 'Channel', font: {size: 17.5}, standoff: 10}, automargin: false},
  yaxis2: {range: [0, 16], overlaying: 'y', side: 'right', tickvals: yTicks, ticks: 'inside', ticklen: 6, tickcolor: '#000',
    showticklabels: false, showline: false, showgrid: false, zeroline: false}
};
Plotly.newPlot('chart', traces, layout, {staticPlot: true, displayModeBar: false});
</script>
</body>
</html>
